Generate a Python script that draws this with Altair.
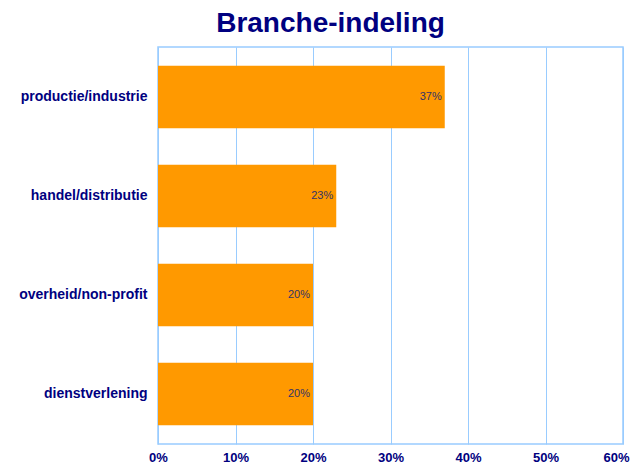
import altair as alt
import pandas as pd

categories = ["productie/industrie", "handel/distributie", "overheid/non-profit", "dienstverlening"]
values = [37, 23, 20, 20]
labels = ["37%", "23%", "20%", "20%"]
ticks = [0, 0.1, 0.2, 0.3, 0.4, 0.5, 0.6]

df = pd.DataFrame({"cat": categories, "val": [v / 100 for v in values], "lab": labels})

navy = "#000080"
grid = "#99CCFF"

x = alt.X("val:Q", scale=alt.Scale(domain=[0, 0.6]),
          axis=alt.Axis(format="%", values=ticks, title=None,
                        grid=True, gridColor=grid, gridWidth=1, ticks=False, domain=False,
                        labelColor=navy, labelFont="Arial", labelFontWeight="bold",
                        labelFontSize=13, labelPadding=7, labelFlush=False,
                        labelAlign=alt.condition("datum.value >= 0.59", alt.value("right"), alt.value("center")),
                        labelOffset=alt.condition("datum.value >= 0.59", alt.value(6), alt.value(0))))
y = alt.Y("cat:N", sort=categories, scale=alt.Scale(paddingInner=0.37, paddingOuter=0.19),
          axis=alt.Axis(title=None, ticks=False, domain=False, labelColor=navy,
                        labelFont="Arial", labelFontWeight="bold", labelFontSize=14,
                        labelPadding=11))

bars = alt.Chart(df).mark_bar(color="#FF9900").encode(x=x, y=y)
text = alt.Chart(df).mark_text(align="right", dx=-3, font="Arial", fontSize=11,
                                color="#333366").encode(x="val:Q", y=alt.Y("cat:N", sort=categories), text="lab:N")

chart = (bars + text).properties(
    width=465, height=397,
    autosize=alt.AutoSizeParams(type="none"),
    padding={"left": 150, "top": 39, "right": 7, "bottom": 19},
    title=alt.Title("Branche-indeling", font="Arial", fontSize=28, fontWeight="bold",
                    color=navy, anchor="middle", dx=-60, offset=9),
).configure_view(stroke=grid, strokeWidth=1.5)

chart.save("out.html", embed_options={"renderer": "svg", "actions": False})
